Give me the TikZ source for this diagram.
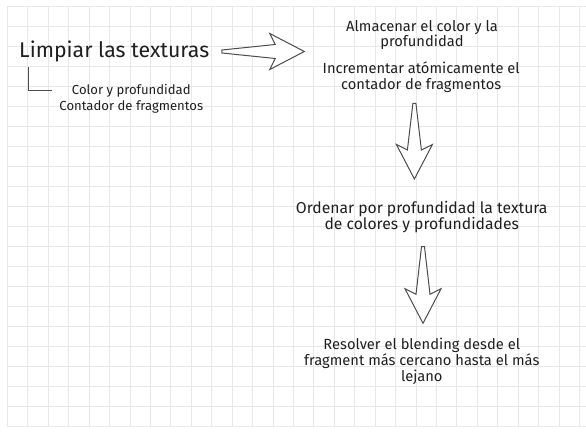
\documentclass[tikz,border=0pt]{standalone}
\usepackage{fontspec}
\setmainfont{Fira Sans}
\usetikzlibrary{calc}
\usepackage{xcolor}
\colorlet{mygrid}{black!9}
\colorlet{mytext}{black!88}
\colorlet{myline}{black!70}
\tikzset{
  label big/.style={inner sep=0,text=mytext,font=\fontsize{21.3}{25}\selectfont},
  label text/.style={inner sep=0,text=mytext,align=center,font=\fontsize{14.7}{15.8}\selectfont},
  label wide/.style={label text,font=\fontsize{15.7}{16}\selectfont},
  label small/.style={inner sep=0,text=mytext,align=center,font=\fontsize{13.1}{16}\selectfont},
  bracket/.style={myline,line width=0.9pt},
  grid lines/.style={mygrid,line width=0.6pt},
  block arrow/.style={draw=myline,fill=white,line width=1pt,line join=miter,
    to path={
      ($(\tikztostart)!1.5pt!90:(\tikztotarget)$)
      -- ($(\tikztotarget)!29pt!(\tikztostart)!7pt!-90:(\tikztostart)$)
      -- ($(\tikztotarget)!34.5pt!(\tikztostart)!18pt!-90:(\tikztostart)$)
      -- (\tikztotarget)
      -- ($(\tikztotarget)!34.5pt!(\tikztostart)!18pt!90:(\tikztostart)$)
      -- ($(\tikztotarget)!29pt!(\tikztostart)!7pt!90:(\tikztostart)$)
      -- ($(\tikztostart)!1.5pt!-90:(\tikztotarget)$)
      -- cycle}}
}
\begin{document}
\begin{tikzpicture}[x=1pt,y=-1pt]
    \fill[white] (0,0) rectangle (586,436);
    \useasboundingbox (0,0) rectangle (586,436);
    \begin{scope}[shift={(7.3,6.7)}]
      \draw[grid lines,xstep=20.43pt,ystep=20pt] (0,420) grid (578.7,0);
    \end{scope}
    % texts
    \node[label big] (clear) at (114.2,51.5) {Limpiar las texturas};
    \node[label small] (buffers) at (131.3,98.7) {Color y profundidad\\Contador de fragmentos};
    \node[label text] (store) at (422,35.1) {Almacenar el color y la\\profundidad};
    \node[label text] (count) at (421.2,76.9) {Incrementar atómicamente el\\contador de fragmentos};
    \node[label wide] (sort) at (421.7,217.3) {Ordenar por profundidad la textura\\de colores y profundidades};
    \node[label text] (resolve) at (421.8,361.4) {Resolver el blending desde el\\fragment más cercano hasta el más\\lejano};
    % arrows
    \coordinate (a1) at ([xshift=12.5pt]clear.east |- 0,51.5);
    \coordinate (a2) at (304.3,51.5);
    \coordinate (b1) at (414.4,103.3);
    \coordinate (b2) at (414.4,179);
    \coordinate (c1) at (423,246.7);
    \coordinate (c2) at (423,323.3);
    \draw[bracket] ([xshift=9.2pt,yshift=-4.9pt]clear.south west) |- ([xshift=-7.3pt,yshift=8.2pt]buffers.west);
    \draw[block arrow] (a1) to (a2);
    \draw[block arrow] (b1) to (b2);
    \draw[block arrow] (c1) to (c2);
\end{tikzpicture}
\end{document}
